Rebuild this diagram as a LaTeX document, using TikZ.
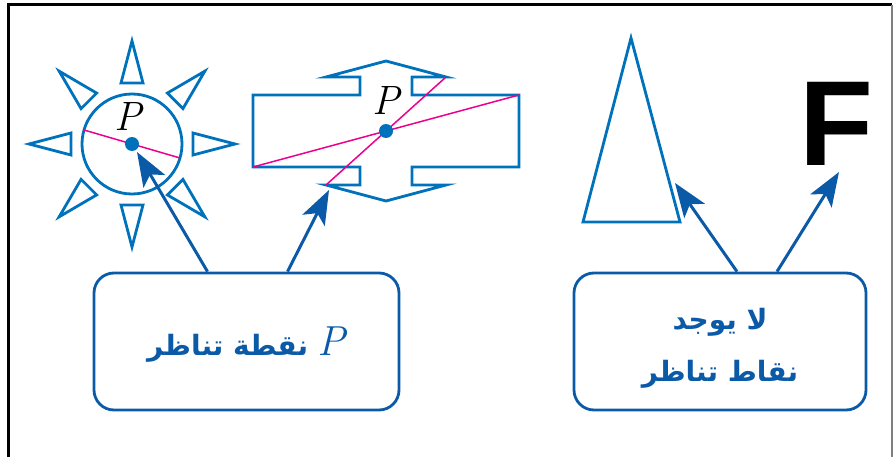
\documentclass[tikz,border=0pt]{standalone}
\usepackage{fontspec}
\usetikzlibrary{arrows.meta,positioning,calc}
\newfontfamily\arabicfont[Script=Arabic]{DejaVu Sans}
\newfontfamily\letterfont{Liberation Sans}
\TeXXeTstate=1
\definecolor{symblue}{RGB}{0,114,188}
\definecolor{darkblue}{RGB}{10,90,168}
\definecolor{axispink}{RGB}{236,0,140}

\begin{document}
\begin{tikzpicture}[x=1pt, y=-1pt, line join=miter]

        \tikzstyle{outline} = [draw=symblue, line width=2.8pt]
        \tikzstyle{axisline} = [draw=axispink, line width=1.5pt]
        \tikzstyle{centre} = [fill=symblue, circle, inner sep=0pt, minimum size=14pt]
        \tikzstyle{plabel} = [inner sep=0pt, font=\fontsize{41}{41}\selectfont\itshape]
        \tikzstyle{box} = [draw=darkblue, line width=2.8pt, rounded corners=20pt, minimum width=305pt, minimum height=137pt, align=center, text=darkblue, font=\arabicfont\bfseries\fontsize{28}{52}\selectfont]
        \tikzstyle{pointer} = [draw=darkblue, line width=3pt, -{Stealth[length=34pt, width=25pt, inset=8pt]}]

        \useasboundingbox (0,0) rectangle (893,457);
        \draw [line width=3pt] (8,457) -- (8,5) -- (892,5);
        \draw [gray, line width=1.5pt] (892,5) -- (892,457);

        \coordinate (sun) at (132,144);
        \foreach \a in {0,45,...,315}
            \draw [outline, rotate around={\a:(sun)}] ($(sun)+(61,-11)$) -- ($(sun)+(103,0)$) -- ($(sun)+(61,11)$) -- cycle;
        \draw [outline] (sun) circle (50);
        \draw [axisline] ($(sun)+(-48,-14)$) -- ($(sun)+(48,14)$);
        \node [centre] (P1) at (sun) {};
        \node [plabel, above=6pt of P1, xshift=-4pt] {P};

        \coordinate (cross) at (386,131);
        \draw [outline, shift={(cross)}] (-133,-36) -- (-26,-36) -- (-26,-54) -- (-60,-54) -- (0,-70) -- (60,-54) -- (26,-54) -- (26,-36) -- (133,-36) -- (133,36) -- (26,36) -- (26,54) -- (60,54) -- (0,70) -- (-60,54) -- (-26,54) -- (-26,36) -- (-133,36) -- cycle;
        \draw [axisline, shift={(cross)}] (-133,36) -- (133,-36);
        \draw [axisline, shift={(cross)}] (-60,54) -- (60,-54);
        \node [centre] (P2) at (cross) {};
        \node [plabel, above=9pt of P2] {P};

        \draw [outline] (631,38) -- (680,222) -- (583,222) -- cycle;
        \coordinate (tri) at (675,183);

        \node [inner sep=0pt, font=\letterfont\bfseries\fontsize{121}{121}\selectfont] (F) at (836,124) {F};
        \coordinate (Ftip) at (839,172);

        \node [box, text depth=0pt] (note1) at (246.5,341.5) {\beginR\mbox{\normalfont\fontsize{42}{42}\selectfont\itshape P} نقطة تناظر\endR};
        \node [box, minimum width=292pt, text height=87pt] (note2) at (720,341.5) {\beginR لا يوجد\endR\\\beginR نقاط تناظر\endR};

        \draw [pointer] ([xshift=-39pt]note1.north) -- (137,152);
        \draw [pointer] ([xshift=41pt]note1.north) -- (329,190);
        \draw [pointer] ([xshift=17pt]note2.north) -- (tri);
        \draw [pointer] ([xshift=57pt]note2.north) -- (Ftip);

\end{tikzpicture}
\end{document}
